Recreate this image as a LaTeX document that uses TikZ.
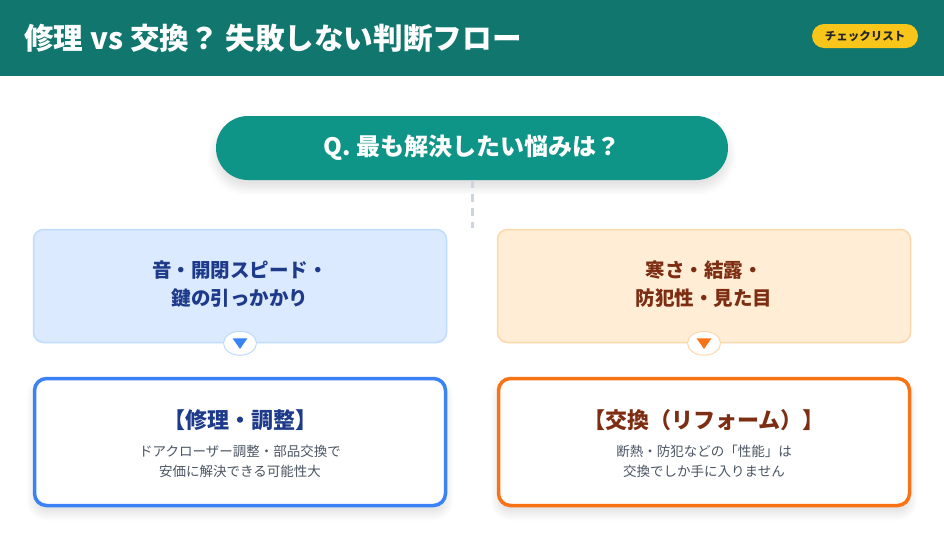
\documentclass[tikz,border=0pt]{standalone}
\usepackage{fontspec}
\setmainfont{Noto Sans CJK JP}
\usetikzlibrary{shadows.blur,shapes.geometric}
\definecolor{headteal}{HTML}{10766E}
\definecolor{qteal}{HTML}{0F9488}
\definecolor{badgey}{HTML}{F8C61B}
\definecolor{dashgray}{HTML}{CBD5E1}
\definecolor{bluefill}{HTML}{DBEAFE}
\definecolor{blueline}{HTML}{BFDBFE}
\definecolor{bluedark}{HTML}{1E3A8A}
\definecolor{bluemain}{HTML}{3B82F6}
\definecolor{orfill}{HTML}{FFEDD5}
\definecolor{orline}{HTML}{FED7AA}
\definecolor{ordark}{HTML}{7C2D12}
\definecolor{ormain}{HTML}{F97316}
\definecolor{desc}{HTML}{4B5563}
\tikzstyle{soft shadow}=[blur shadow={shadow xshift=0pt,shadow yshift=-7pt,shadow blur radius=9pt,shadow blur steps=12,shadow opacity=14}]
\tikzstyle{question}=[rounded corners=32pt,fill=qteal,minimum width=512pt,minimum height=64pt,inner sep=0pt,
  text=white,font=\bfseries\fontsize{24}{28}\selectfont,soft shadow]
\tikzstyle{worry}=[rounded corners=10pt,draw,line width=1.5pt,minimum width=413pt,minimum height=113pt,inner sep=0pt]
\tikzstyle{answer}=[rounded corners=12pt,draw,fill=white,line width=3.5pt,minimum width=411pt,minimum height=127pt,inner sep=0pt,
  soft shadow]
\tikzstyle{marker}=[ellipse,draw,fill=white,line width=1pt,minimum width=33pt,minimum height=24pt,inner sep=0pt]
\tikzstyle{tip}=[isosceles triangle,isosceles triangle apex angle=70,shape border rotate=-90,minimum width=14pt,minimum height=10.5pt,inner sep=0pt]
\tikzstyle{link}=[draw,dashgray,line width=3pt,dash pattern=on 8pt off 6pt]

\begin{document}
\begin{tikzpicture}[x=1pt,y=-1pt]
  \useasboundingbox (0,0) rectangle (944,533);
  % header bar with title and badge
  \fill[headteal] (0,0) rectangle (944,76);
  \node[anchor=west,text=white,font=\bfseries\fontsize{29.6}{32}\selectfont,inner sep=0pt] (title) at (24,38)
    {修理 vs 交換？ 失敗しない判断フロー};
  \node[fill=badgey,rounded corners=12pt,minimum width=106pt,minimum height=24pt,inner sep=0pt,
    font=\bfseries\fontsize{11.5}{13}\selectfont,text=black!85] (badge) at (865,36) {チェックリスト};

  % the question and its stem
  \node[question] (q) at (472,148) {Q. 最も解決したい悩みは？};
  \coordinate (split) at (472,228);
  \path[link] (q.south) -- (split);

  % the two branches
  \foreach \x/\name/\fillc/\linec/\darkc/\mainc/\worry/\head/\text in {
      240/repair/bluefill/blueline/bluedark/bluemain/{音・開閉スピード・\\鍵の引っかかり}/【修理・調整】/{ドアクローザー調整・部品交換で\\安価に解決できる可能性大},
      704/replace/orfill/orline/ordark/ormain/{寒さ・結露・\\防犯性・見た目}/【交換（リフォーム）】/{断熱・防犯などの「性能」は\\交換でしか手に入りません}} {
    \node[worry,fill=\fillc,draw=\linec] (\name-w) at (\x,286) {};
    \node[text=\darkc,align=center,font=\bfseries\fontsize{19.5}{28}\selectfont] (\name-l) at (\x,284) {\worry};
    \node[answer,draw=\mainc] (\name-a) at (\x,442) {};
    \node[text=\darkc,font=\bfseries\fontsize{22}{26}\selectfont] (\name-h) at (\x,420) {\head};
    \node[text=desc,align=center,font=\fontsize{13.5}{20}\selectfont] (\name-t) at (\x,461) {\text};
    \node[marker,draw=\linec] (\name-m) at (\name-w.south) {};
    \node[tip,fill=\mainc] (\name-tip) at ([yshift=1pt]\name-m.center) {};
  }
\end{tikzpicture}
\end{document}
